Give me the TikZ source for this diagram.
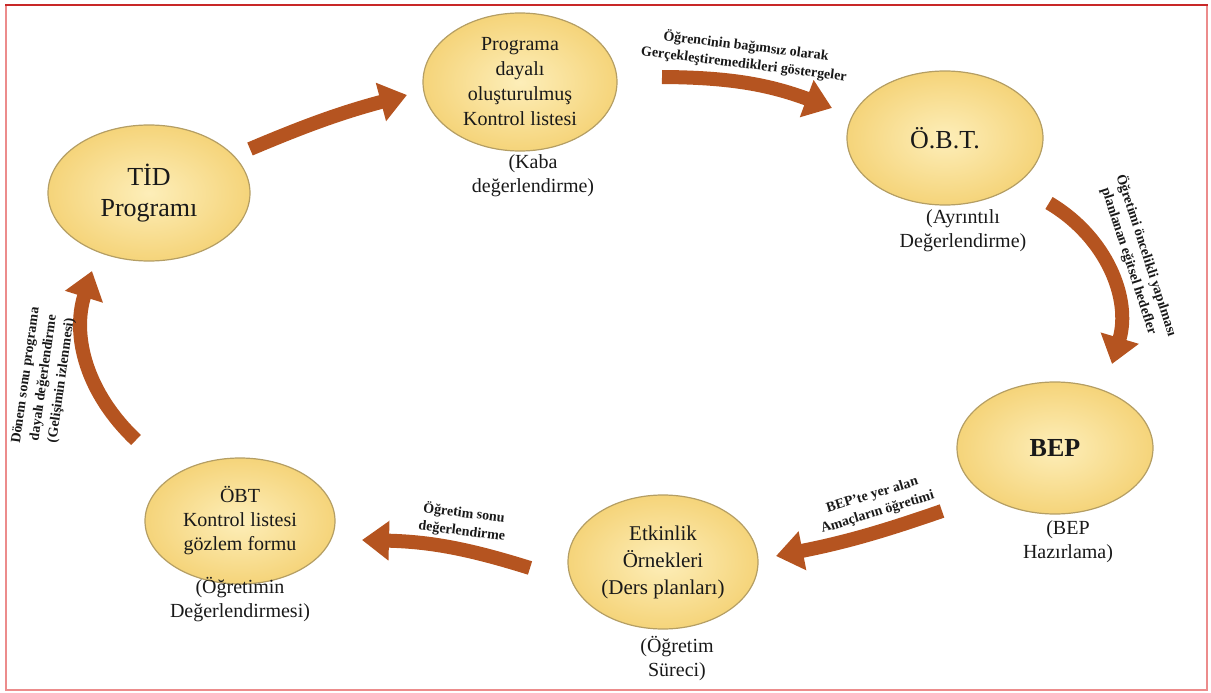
\documentclass[tikz,border=0pt]{standalone}
\usepackage{fontspec}
\setmainfont{Liberation Serif}
\usetikzlibrary{arrows.meta,shapes.geometric}
\definecolor{arrowbrown}{RGB}{181,84,32}
\definecolor{ellin}{RGB}{253,238,185}
\definecolor{ellout}{RGB}{245,212,122}
\definecolor{ellborder}{RGB}{180,158,100}
\definecolor{framered}{RGB}{200,40,40}
\definecolor{framepink}{RGB}{236,140,140}
\tikzset{
  oval/.style={ellipse, draw=ellborder, line width=1.2pt, inner color=ellin, outer color=ellout,
    minimum width=#1, align=center, inner sep=0pt, text=black!90},
  sublabel/.style={align=center, font=\fontsize{20}{24}\selectfont, text=black!90, inner sep=1pt},
  bigarrow/.style={draw=arrowbrown, line width=14pt, line cap=butt,
    -{Triangle[width=38pt,length=27pt]}},
  arrowlabel/.style={align=center, font=\bfseries\fontsize{14}{18}\selectfont, text=black!90, inner sep=0pt},
}
\begin{document}
\begin{tikzpicture}[x=1pt,y=-1pt]
\useasboundingbox (0,0) rectangle (1211,693);
% frame
\draw[framepink, line width=1.5pt] (6,5) rectangle (1207,690);
\draw[framered, line width=2.5pt] (5,5) -- (1208,5);

% nodes
\node[oval=202pt, minimum height=136pt, font=\fontsize{26}{31}\selectfont] (tid) at (149,193) {TİD\\Programı};
\node[oval=194pt, minimum height=138pt, font=\fontsize{20}{25}\selectfont] (prog) at (520,82) {Programa\\dayalı\\oluşturulmuş\\Kontrol listesi};
\node[oval=196pt, minimum height=134pt, font=\fontsize{26}{31}\selectfont] (obt) at (945,138) {Ö.B.T.};
\node[oval=196pt, minimum height=132pt, font=\bfseries\fontsize{26}{31}\selectfont] (bep) at (1055,448) {BEP};
\node[oval=190pt, minimum height=134pt, font=\fontsize{21}{27}\selectfont] (etk) at (663,562) {Etkinlik\\Örnekleri\\(Ders planları)};
\node[oval=190pt, minimum height=126pt, font=\fontsize{20}{24}\selectfont] (kon) at (240,521) {ÖBT\\Kontrol listesi\\gözlem formu};

% sub labels
\node[sublabel] (progsub) at (533,176) {(Kaba\\değerlendirme)};
\node[sublabel] (obtsub) at (963,231) {(Ayrıntılı\\Değerlendirme)};
\node[sublabel] (bepsub) at (1068,542) {(BEP\\Hazırlama)};
\node[sublabel] (etksub) at (677,659) {(Öğretim\\Süreci)};
\node[sublabel] (konsub) at (240,600) {(Öğretimin\\Değerlendirmesi)};

% arrow end coordinates
\coordinate (a1s) at (250,149); \coordinate (a1e) at (407,95);
\coordinate (a2s) at (662,77);  \coordinate (a2e) at (832,108);
\coordinate (a3s) at (1049,203); \coordinate (a3e) at (1112,364);
\coordinate (a4s) at (942,511); \coordinate (a4e) at (776,556);
\coordinate (a5s) at (530,568); \coordinate (a5e) at (362,540);
\coordinate (a6s) at (136,440); \coordinate (a6e) at (92,271);

\draw[bigarrow] (a1s) to[bend left=4] (a1e);
\draw[bigarrow] (a2s) to[bend left=10] (a2e);
\draw[bigarrow] (a3s) to[bend left=38] (a3e);
\draw[bigarrow] (a4s) to[bend left=4] (a4e);
\draw[bigarrow] (a5s) to[bend right=8] (a5e);
\draw[bigarrow] (a6s) to[bend left=32] (a6e);

% arrow labels
\node[arrowlabel, rotate=-7] (l1) at (745,55) {Öğrencinin bağımsız olarak\\Gerçekleştiremedikleri göstergeler};
\node[arrowlabel, rotate=-72] (l2) at (1138,258) {Öğretimi öncelikli yapılması\\planlanan eğitsel hedefler};
\node[arrowlabel, rotate=82] (l3) at (44,378) {Dönem sonu programa\\dayalı değerlendirme\\(Gelişimin izlenmesi)};
\node[arrowlabel, rotate=17] (l4) at (875,504) {BEP’te yer alan\\Amaçların öğretimi};
\node[arrowlabel, rotate=-7] (l5) at (463,522) {Öğretim sonu\\değerlendirme};
\end{tikzpicture}
\end{document}
